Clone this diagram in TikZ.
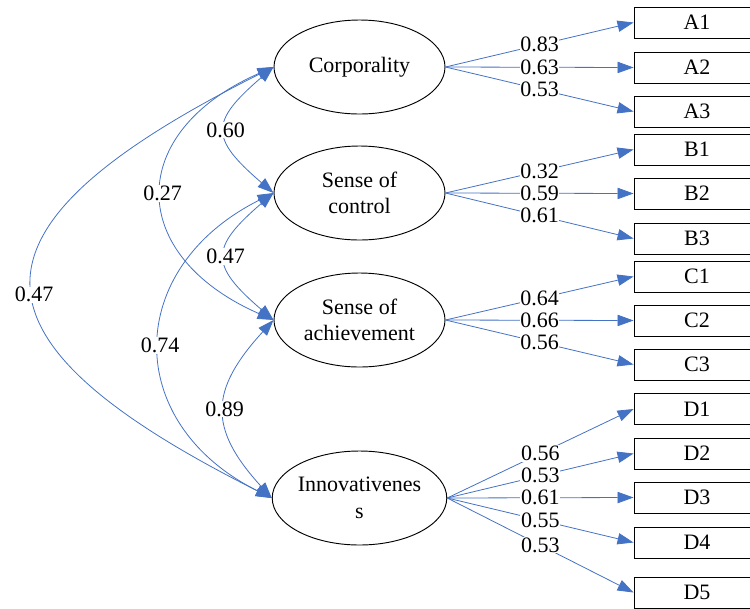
\documentclass[tikz,border=0pt]{standalone}
\usepackage{fontspec}
\setmainfont{Liberation Serif}
\usepackage{tikz}
\usetikzlibrary{arrows.meta,shapes.geometric}
\definecolor{pathblue}{RGB}{68,114,196}

\begin{document}
\begin{tikzpicture}[x=0.75pt,y=0.75pt,yscale=-1,xscale=1,
  font=\rmfamily\fontsize{16.5}{20}\selectfont,
  latent/.style={draw,ellipse,line width=0.7pt,minimum width=128.25pt,minimum height=70.5pt,inner sep=0pt,align=center},
  observed/.style={draw,rectangle,line width=0.7pt,minimum width=94.5pt,minimum height=23.25pt,inner sep=0pt},
  load/.style={draw=pathblue,line width=0.6pt,-{Triangle[length=12pt,width=8.5pt]}},
  cov/.style={draw=pathblue,line width=0.6pt,{Triangle[length=12pt,width=8.5pt]}-{Triangle[length=12pt,width=8.5pt]}},
  coef/.style={fill=white,inner sep=0.5pt,midway}]
\useasboundingbox (0,0) rectangle (750,608);

%Latent variables
\node [latent] (cor) at (359.5,67) {Corporality};
\node [latent] (con) at (359.5,193) {Sense of\\control};
\node [latent] (ach) at (359.5,320) {Sense of\\achievement};
\node [latent] (inn) at (359.5,498) {Innovativenes\\s};

%Observed variables
\node [observed] (a1) at (697,22.5) {A1};
\node [observed] (a2) at (697,67.5) {A2};
\node [observed] (a3) at (697,111.5) {A3};
\node [observed] (b1) at (697,149.5) {B1};
\node [observed] (b2) at (697,193.5) {B2};
\node [observed] (b3) at (697,238.5) {B3};
\node [observed] (c1) at (697,276.5) {C1};
\node [observed] (c2) at (697,320.5) {C2};
\node [observed] (c3) at (697,364.5) {C3};
\node [observed] (d1) at (697,409) {D1};
\node [observed] (d2) at (697,453.5) {D2};
\node [observed] (d3) at (697,497.5) {D3};
\node [observed] (d4) at (697,542.5) {D4};
\node [observed] (d5) at (697,592.5) {D5};

%Loadings
\draw [load] (cor.east) -- node [coef] {0.83} (a1.west);
\draw [load] (cor.east) -- node [coef] {0.63} (a2.west);
\draw [load] (cor.east) -- node [coef] {0.53} (a3.west);
\draw [load] (con.east) -- node [coef] {0.32} (b1.west);
\draw [load] (con.east) -- node [coef] {0.59} (b2.west);
\draw [load] (con.east) -- node [coef] {0.61} (b3.west);
\draw [load] (ach.east) -- node [coef] {0.64} (c1.west);
\draw [load] (ach.east) -- node [coef] {0.66} (c2.west);
\draw [load] (ach.east) -- node [coef] {0.56} (c3.west);
\draw [load] (inn.east) -- node [coef] {0.56} (d1.west);
\draw [load] (inn.east) -- node [coef] {0.53} (d2.west);
\draw [load] (inn.east) -- node [coef] {0.61} (d3.west);
\draw [load] (inn.east) -- node [coef] {0.55} (d4.west);
\draw [load] (inn.east) -- node [coef] {0.53} (d5.west);

%Correlations
\draw [cov] (cor.west) .. controls +(-319,160) and +(-319,-160) .. node [coef,pos=0.53] {0.47} (inn.west);
\draw [cov] (cor.west) .. controls +(-148,65) and +(-148,-65) .. node [coef] {0.27} (ach.west);
\draw [cov] (con.west) .. controls +(-150,75) and +(-150,-75) .. node [coef] {0.74} (inn.west);
\draw [cov] (cor.west) .. controls +(-64,55) and +(-64,-55) .. node [coef] {0.60} (con.west);
\draw [cov] (con.west) .. controls +(-64,55) and +(-64,-55) .. node [coef] {0.47} (ach.west);
\draw [cov] (ach.west) .. controls +(-64,70) and +(-64,-70) .. node [coef] {0.89} (inn.west);

\end{tikzpicture}
\end{document}
